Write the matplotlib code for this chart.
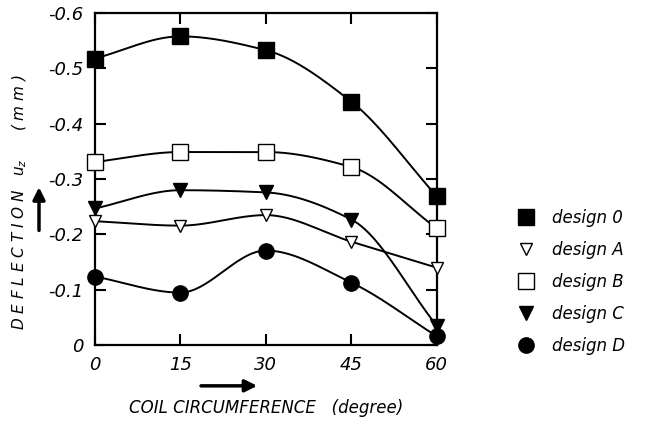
import numpy as np
from matplotlib import pyplot as plt

angle = [0, 15, 30, 45, 60]
design_0 = [-0.518, -0.558, -0.533, -0.44, -0.269]
design_a = [-0.224, -0.216, -0.235, -0.187, -0.14]
design_b = [-0.331, -0.349, -0.349, -0.322, -0.211]
design_c = [-0.247, -0.28, -0.276, -0.227, -0.035]
design_d = [-0.124, -0.095, -0.171, -0.113, -0.016]
labels = ['design 0', 'design A', 'design B', 'design C', 'design D']


def smooth(x, y, n=200):
    # monotone cubic (pchip) through the points, for the drawn curve only
    x = np.asarray(x, float)
    y = np.asarray(y, float)
    h = np.diff(x)
    d = np.diff(y) / h
    k = len(x)
    m = np.zeros(k)
    for i in range(1, k - 1):
        if d[i - 1] * d[i] > 0:
            w1 = 2 * h[i] + h[i - 1]
            w2 = h[i] + 2 * h[i - 1]
            m[i] = (w1 + w2) / (w1 / d[i - 1] + w2 / d[i])
    m[0] = d[0]
    m[-1] = d[-1]
    xs = np.linspace(x[0], x[-1], n)
    idx = np.clip(np.searchsorted(x, xs) - 1, 0, k - 2)
    hh = h[idx]
    t = (xs - x[idx]) / hh
    ys = ((2 * t ** 3 - 3 * t ** 2 + 1) * y[idx]
          + (t ** 3 - 2 * t ** 2 + t) * hh * m[idx]
          + (-2 * t ** 3 + 3 * t ** 2) * y[idx + 1]
          + (t ** 3 - t ** 2) * hh * m[idx + 1])
    return xs, ys


plt.rcParams['font.family'] = ['DejaVu Sans']
plt.rcParams['font.style'] = 'italic'

fig = plt.figure(figsize=(6.5, 4.24), dpi=100)
ax = fig.add_axes([0.146, 0.186, 0.526, 0.783])

series = [
    (design_0, dict(marker='s', mfc='black', mec='black', ms=11)),
    (design_a, dict(marker='v', mfc='white', mec='black', ms=9, mew=1.0)),
    (design_b, dict(marker='s', mfc='white', mec='black', ms=11, mew=1.0)),
    (design_c, dict(marker='v', mfc='black', mec='black', ms=10)),
    (design_d, dict(marker='o', mfc='black', mec='black', ms=11)),
]

handles = []
for vals, style in series:
    xs, ys = smooth(angle, vals)
    ax.plot(xs, ys, '-', c='black', lw=1.4, clip_on=False)
    h, = ax.plot(angle, vals, ls='none', clip_on=False, zorder=3, **style)
    handles.append(h)

ax.set_xlim(0, 60)
ax.set_ylim(0, -0.6)
ax.set_xticks([0, 15, 30, 45, 60])
ax.set_yticks([0, -0.1, -0.2, -0.3, -0.4, -0.5, -0.6])
ax.set_yticklabels(['0', '-0.1', '-0.2', '-0.3', '-0.4', '-0.5', '-0.6'])
ax.tick_params(direction='in', length=8, width=1.5, top=True, right=True,
               labelsize=13, pad=8)
for s in ax.spines.values():
    s.set_linewidth(1.6)

fig.legend(handles, labels, loc='center left', bbox_to_anchor=(0.77, 0.335),
           frameon=False, fontsize=12, handletextpad=1.0, labelspacing=0.85,
           handlelength=1.2)

fig.text(0.41, 0.037, 'COIL CIRCUMFERENCE   (degree)',
         ha='center', va='center', fontsize=12)
fig.text(0.03, 0.523, 'D E F L E C T I O N   $u_z$      ( m m )', rotation=90,
         ha='center', va='center', fontsize=11)

# direction arrows
fig.add_artist(plt.Annotation('', xy=(0.40, 0.09), xytext=(0.305, 0.09),
                              xycoords='figure fraction',
                              arrowprops=dict(arrowstyle='-|>', lw=2.5,
                                              color='black',
                                              mutation_scale=18)))
fig.add_artist(plt.Annotation('', xy=(0.06, 0.565), xytext=(0.06, 0.45),
                              xycoords='figure fraction',
                              arrowprops=dict(arrowstyle='-|>', lw=2.5,
                                              color='black',
                                              mutation_scale=18)))

plt.savefig('out.png', dpi=100)
